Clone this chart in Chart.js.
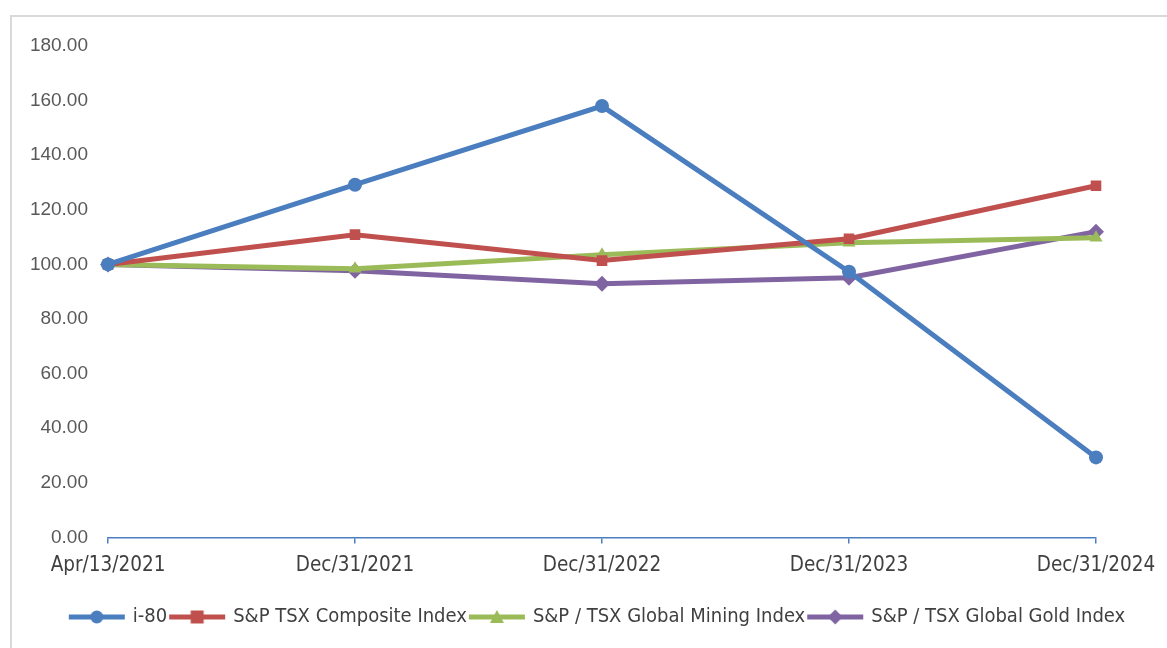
<!DOCTYPE html>
<html>
<head>
<meta charset="utf-8">
<script src="https://cdn.jsdelivr.net/npm/chart.js@4.4.7/dist/chart.umd.min.js"></script>
<style>
  html, body { margin: 0; padding: 0; background: #fff; }
  #frame {
    position: absolute; left: 10px; top: 15px; width: 1200px; height: 700px;
    border-left: 2px solid #d9d9d9; border-top: 2px solid #d9d9d9;
  }
  #wrap { position: absolute; left: 0; top: 0; width: 1167px; height: 648px; }
</style>
</head>
<body>
<div id="frame"></div>
<div id="wrap"><canvas id="chart" width="1167" height="648"></canvas></div>
<script>
// Categories and values
const categories = ["Apr/13/2021", "Dec/31/2021", "Dec/31/2022", "Dec/31/2023", "Dec/31/2024"];
const i80 = [100.0, 129.2, 158.0, 97.3, 29.3];
const tsxComposite = [100.0, 110.9, 101.4, 109.4, 128.8];
const tsxMining = [100.0, 98.4, 103.5, 107.9, 109.8];
const tsxGold = [100.0, 97.7, 92.9, 95.1, 112.0];
const yTicks = [0, 20, 40, 60, 80, 100, 120, 140, 160, 180];

const BLUE = "#4a7ebf", RED = "#c0504d", GREEN = "#9bbb59", PURPLE = "#8064a2";
const AXIS_FONT = "'Liberation Sans Narrow', 'DejaVu Sans Condensed', sans-serif";

// little legend icon: a line with the marker in its middle (Excel style)
function legendIcon(color, style) {
  const c = document.createElement("canvas");
  c.width = 58; c.height = 16;
  const g = c.getContext("2d");
  g.strokeStyle = color; g.fillStyle = color; g.lineWidth = 5;
  g.beginPath(); g.moveTo(1, 8); g.lineTo(57, 8); g.stroke();
  g.beginPath();
  if (style === "circle") g.arc(29, 8, 6.5, 0, Math.PI * 2);
  else if (style === "rect") g.rect(22.5, 1.5, 13, 13);
  else if (style === "triangle") { g.moveTo(29, 1); g.lineTo(36, 14); g.lineTo(22, 14); g.closePath(); }
  else { g.moveTo(29, 0.5); g.lineTo(36.5, 8); g.lineTo(29, 15.5); g.lineTo(21.5, 8); g.closePath(); }
  g.fill();
  return c;
}

function series(label, data, color, style, radius) {
  return {
    label, data,
    borderColor: color, backgroundColor: color,
    borderWidth: 5,
    pointStyle: style, pointRadius: radius, pointHoverRadius: radius,
    pointBorderWidth: 0,
    tension: 0,
    legendIcon: legendIcon(color, style)
  };
}

// the legend in the reference sits a bit right of the chart centre
const shiftLegend = {
  id: "shiftLegend",
  afterLayout(chart) {
    const lg = chart.legend;
    if (!lg) return;
    lg.left += 40; lg.right += 40;
    lg.top += 3; lg.bottom += 3;
  }
};

new Chart(document.getElementById("chart"), {
  type: "line",
  data: {
    labels: categories,
    datasets: [
      series("i-80", i80, BLUE, "circle", 7),
      series("S&P TSX Composite Index", tsxComposite, RED, "rect", 7.5),
      series("S&P / TSX Global Mining Index", tsxMining, GREEN, "triangle", 7.5),
      series("S&P / TSX Global Gold Index", tsxGold, PURPLE, "rectRot", 8)
    ]
  },
  plugins: [shiftLegend],
  options: {
    responsive: false,
    animation: false,
    layout: { padding: { left: 20, right: 71, top: 46, bottom: 14 } },
    plugins: {
      tooltip: { enabled: false },
      legend: {
        position: "bottom",
        labels: {
          usePointStyle: true,
          pointStyleWidth: 52,
          padding: 4,
          color: "#404040",
          font: { family: AXIS_FONT, size: 20 },
          generateLabels(chart) {
            return chart.data.datasets.map((ds, i) => ({
              text: ds.label,
              fillStyle: ds.borderColor,
              strokeStyle: ds.borderColor,
              fontColor: "#404040",
              pointStyle: ds.legendIcon,
              lineWidth: 0,
              hidden: false,
              datasetIndex: i
            }));
          }
        }
      }
    },
    scales: {
      x: {
        offset: false,
        border: { display: true, color: BLUE, width: 1.5 },
        grid: { display: true, drawOnChartArea: false, drawTicks: true, tickLength: 6, color: BLUE, lineWidth: 1.5 },
        afterFit(axis) { axis.height += 12; },
        ticks: {
          color: "#404040", padding: 10, maxRotation: 0, autoSkip: false,
          font: { family: AXIS_FONT, size: 20.5 }
        }
      },
      y: {
        min: 0, max: 180,
        afterBuildTicks(axis) { axis.ticks = yTicks.map(v => ({ value: v })); },
        afterFit(axis) { axis.width = 88; },
        border: { display: false },
        grid: { display: false, drawTicks: false },
        ticks: {
          color: "#595959", padding: 20,
          font: { family: "'Liberation Sans', Arial, sans-serif", size: 19 },
          callback: v => Number(v).toFixed(2)
        }
      }
    }
  }
});
</script>
</body>
</html>
